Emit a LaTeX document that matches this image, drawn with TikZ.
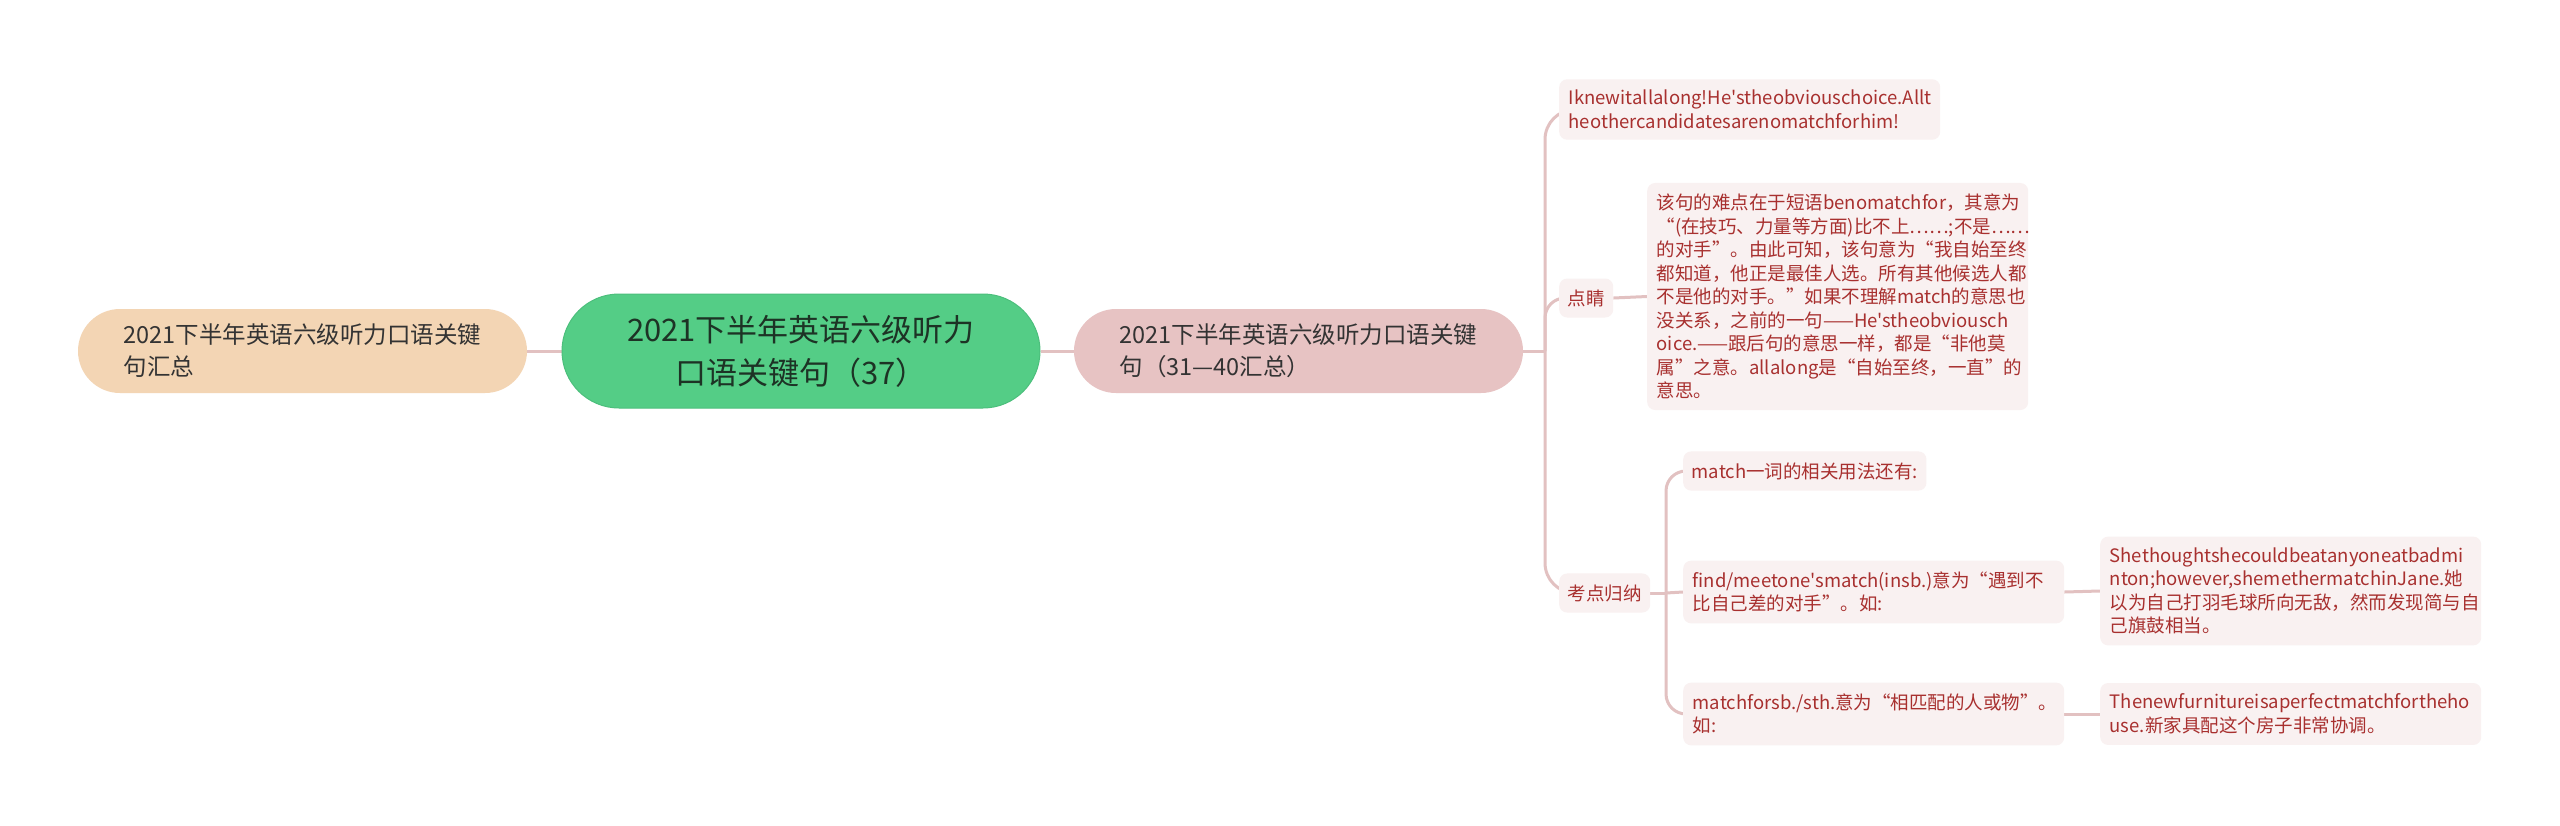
\documentclass[tikz,border=0pt]{standalone}
\usepackage{fontspec}
\newfontfamily\cjk{Noto Sans CJK SC}[Ligatures=TeXOff]
\usetikzlibrary{backgrounds}
\definecolor{mmgreen}{HTML}{54CD86}
\definecolor{mmgreenedge}{HTML}{4CBF7C}
\definecolor{peach}{HTML}{F3D5B4}
\definecolor{pinkmain}{HTML}{E7C3C3}
\definecolor{leaffill}{HTML}{F9F1F1}
\definecolor{leaftext}{HTML}{A8302F}
\definecolor{conn}{HTML}{E2C1C1}
\definecolor{darktext}{HTML}{333333}
\definecolor{greentext}{HTML}{1D3325}
\tikzset{
  mainnode/.style={rounded corners=42, minimum width=449, minimum height=84,
    inner xsep=0, inner ysep=0, align=left, text=darktext,
    font=\cjk\fontsize{23.5}{32}\selectfont},
  rootnode/.style={fill=mmgreen, draw=mmgreenedge, line width=1, rounded corners=57,
    minimum width=478, minimum height=114, inner sep=0, align=center, text=greentext,
    font=\cjk\fontsize{31}{43}\selectfont},
  leaf/.style={fill=leaffill, rounded corners=8, text=leaftext,
    font=\cjk\fontsize{18.5}{23.5}\selectfont, inner xsep=8.5, inner ysep=11, align=left},
  wideleaf/.style={leaf, text width=362, inner xsep=9.5},
  link/.style={draw=conn, line width=3},
}
\begin{document}
\begin{tikzpicture}[x=1pt,y=-1pt]
\useasboundingbox (0,0) rectangle (2560,825);

\node[rootnode] (root) at (801,351) {2021下半年英语六级听力\\口语关键句（37）};
\node[mainnode, fill=peach] (left) at (302.5,351) {2021下半年英语六级听力口语关键\\句汇总};
\node[mainnode, fill=pinkmain] (right) at (1298.5,351) {2021下半年英语六级听力口语关键\\句（31—40汇总）};

\node[wideleaf, anchor=west] (l1) at (1559,109.5) {Iknewitallalong!He'stheobviouschoice.Allt\\heothercandidatesarenomatchforhim!};
\node[leaf, anchor=west] (dj) at (1559,298) {点睛};
\node[wideleaf, anchor=west] (djt) at (1647,296.5) {该句的难点在于短语benomatchfor，其意为\\“(在技巧、力量等方面)比不上……;不是……\\的对手”。由此可知，该句意为“我自始至终\\都知道，他正是最佳人选。所有其他候选人都\\不是他的对手。”如果不理解match的意思也\\没关系，之前的一句——He'stheobviousch\\oice.——跟后句的意思一样，都是“非他莫\\属”之意。allalong是“自始至终，一直”的\\意思。};
\node[leaf, anchor=west] (kd) at (1559,593) {考点归纳};
\node[leaf, anchor=west] (m1) at (1683,471) {match一词的相关用法还有:};
\node[wideleaf, anchor=west] (fm) at (1683,592) {find/meetone'smatch(insb.)意为“遇到不\\比自己差的对手”。如:};
\node[wideleaf, anchor=west] (mf) at (1683,714) {matchforsb./sth.意为“相匹配的人或物”。\\如:};
\node[wideleaf, anchor=west] (sh) at (2100,591) {Shethoughtshecouldbeatanyoneatbadmi\\nton;however,shemethermatchinJane.她\\以为自己打羽毛球所向无敌，然而发现简与自\\己旗鼓相当。};
\node[wideleaf, anchor=west] (tn) at (2100,714) {Thenewfurnitureisaperfectmatchfortheho\\use.新家具配这个房子非常协调。};

\coordinate (j1) at (1545,351);
\coordinate (j2) at (1666,593);

\begin{pgfonlayer}{background}
\fill[white] (0,0) rectangle (2560,825);
\draw[link] (left.east) -- (root.west);
\draw[link] (root.east) -- (right.west);
\draw[link] (right.east) -- (j1);
\draw[link, rounded corners=30] (j1) -- (j1 |- l1.west) -- (l1.west);
\draw[link, rounded corners=20] (j1) -- (j1 |- dj.west) -- (dj.west);
\draw[link, rounded corners=30] (j1) -- (j1 |- kd.west) -- (kd.west);
\draw[link] (dj.east) -- (djt.west);
\draw[link] (kd.east) -- (j2);
\draw[link, rounded corners=20] (j2) -- (j2 |- m1.west) -- (m1.west);
\draw[link] (j2) -- (fm.west);
\draw[link, rounded corners=20] (j2) -- (j2 |- mf.west) -- (mf.west);
\draw[link] (fm.east) -- (sh.west);
\draw[link] (mf.east) -- (tn.west);
\end{pgfonlayer}
\end{tikzpicture}
\end{document}
